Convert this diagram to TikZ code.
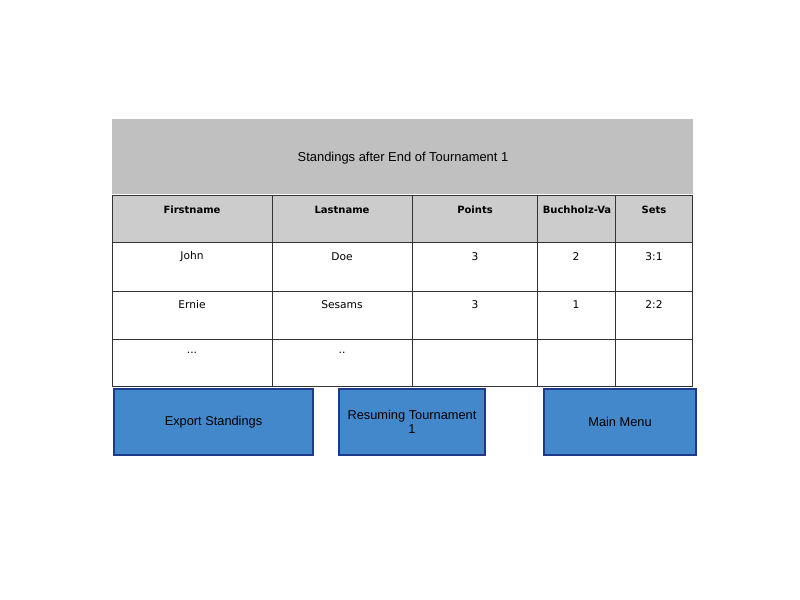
\documentclass[tikz,border=0pt]{standalone}
\usepackage{fontspec}
\setmainfont{Liberation Sans}
\newfontfamily\handfont{DejaVu Sans}
\definecolor{titlegray}{HTML}{C0C0C0}
\definecolor{headgray}{HTML}{CCCCCC}
\definecolor{btnblue}{HTML}{4488CC}
\definecolor{btnedge}{HTML}{1F3A8A}
\definecolor{gridline}{HTML}{333333}
\begin{document}
\begin{tikzpicture}[x=0.75pt,y=-0.75pt,
  cellline/.style={draw=gridline,line width=0.7pt},
  headtext/.style={font=\handfont\bfseries\fontsize{7.5}{9}\selectfont,anchor=center,inner sep=0pt},
  celltext/.style={font=\handfont\fontsize{8}{9.6}\selectfont,anchor=center,inner sep=0pt},
  btn/.style={draw=btnedge,fill=btnblue,line width=1.5pt,inner sep=0pt,align=center,font=\fontsize{9.6}{10.5}\selectfont},
]
\useasboundingbox (0,0) rectangle (800,600);
\fill[white] (0,0) rectangle (800,600);
% title band
\node[fill=titlegray,minimum width=581*0.75pt,minimum height=75*0.75pt,inner sep=0pt,anchor=north west] (title) at (112,119) {};
\node[inner sep=0pt,anchor=center,font=\fontsize{9.7}{11}\selectfont] (titletext) at (403,158) {Standings after End of Tournament 1};
% header fill
\fill[headgray] (112,195) rectangle (692,242);
% grid
\draw[cellline] (112,195) rectangle (692,386);
\foreach \y in {242,291,339} \draw[cellline] (112,\y) -- (692,\y);
\foreach \x in {272,412,537,615} \draw[cellline] (\x,195) -- (\x,386);
% header texts
\node[headtext] (h1) at (192,210) {Firstname};
\node[headtext] (h2) at (342,210) {Lastname};
\node[headtext] (h3) at (475,210) {Points};
\node[headtext] (h4) at (577,210) {Buchholz-Va};
\node[headtext] (h5) at (654,210) {Sets};
% row 1
\node[celltext] (r1a) at (192,257) {John};
\node[celltext] (r1b) at (342,257) {Doe};
\node[celltext] (r1c) at (475,257) {3};
\node[celltext] (r1d) at (576,257) {2};
\node[celltext] (r1e) at (654,257) {3:1};
% row 2
\node[celltext] (r2a) at (192,305) {Ernie};
\node[celltext] (r2b) at (342,305) {Sesams};
\node[celltext] (r2c) at (475,305) {3};
\node[celltext] (r2d) at (576,305) {1};
\node[celltext] (r2e) at (654,305) {2:2};
% row 3
\node[celltext] (r3a) at (192,353) {...};
\node[celltext] (r3b) at (342,353) {..};
% buttons
\node[btn,minimum width=199*0.75pt,minimum height=66*0.75pt,anchor=north west] (export) at (113,388) {Export Standings};
\node[btn,minimum width=146*0.75pt,minimum height=66*0.75pt,anchor=north west] (resume) at (338,388) {Resuming Tournament\\1};
\node[btn,minimum width=152*0.75pt,minimum height=66*0.75pt,anchor=north west] (mainmenu) at (543,388) {Main Menu};
\end{tikzpicture}
\end{document}
